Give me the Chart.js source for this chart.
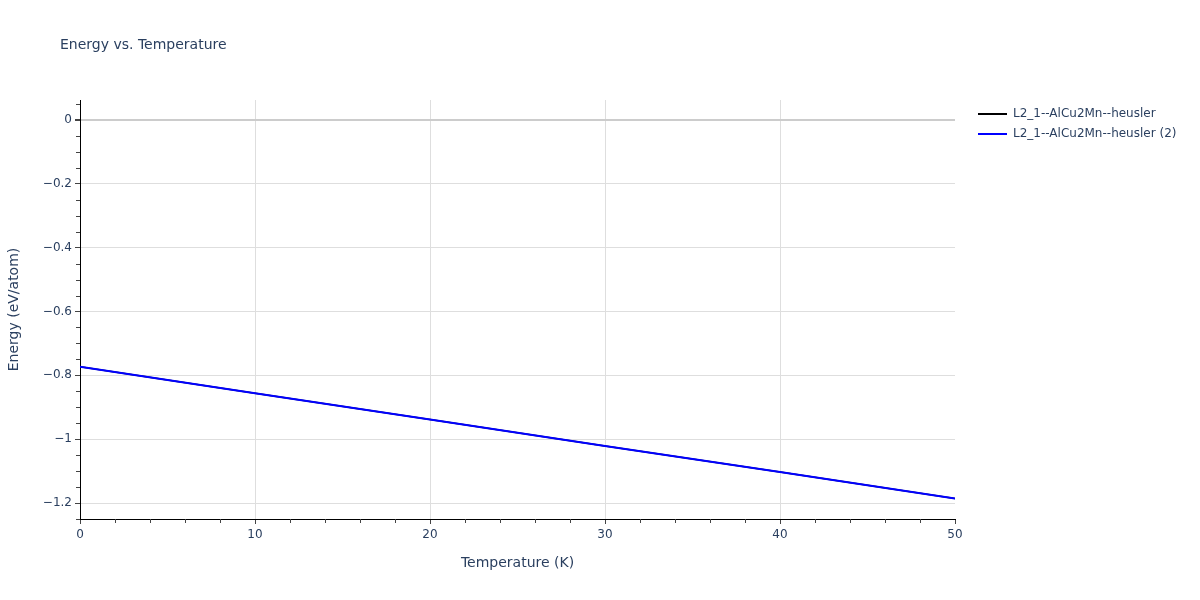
<!DOCTYPE html>
<html>
<head>
<meta charset="utf-8">
<script src="https://cdn.jsdelivr.net/npm/chart.js@4"></script>
<style>
  html, body { margin: 0; padding: 0; background: #fff; }
  #wrap { width: 1200px; height: 600px; position: relative; }
</style>
</head>
<body>
<div id="wrap"><canvas id="myChart1" width="1200" height="600"></canvas></div>
<script>
const temperatures = [0, 10, 20, 30, 40, 50];
const energyA = [-0.773, -0.856, -0.938, -1.021, -1.103, -1.186];
const energyB = [-0.773, -0.856, -0.938, -1.021, -1.103, -1.186];
const seriesNames = ["L2_1--AlCu2Mn--heusler", "L2_1--AlCu2Mn--heusler (2)"];
const seriesColors = ["#000000", "#0000ff"];

const textColor = "#2a3f5f";
const fontFamily = "'DejaVu Sans', Verdana, sans-serif";
const minus = v => String(v).replace('-', '\u2212');

// minor ticks, title and legend drawn on top of the chart
const extras = {
    id: 'extras',
    afterDraw(chart) {
        const ctx = chart.ctx;
        const xs = chart.scales.x, ys = chart.scales.y;
        const area = chart.chartArea;
        ctx.save();
        ctx.strokeStyle = '#444';
        ctx.lineWidth = 1;
        // minor ticks x (every 2)
        for (let v = 0; v <= 50; v += 2) {
            if (v % 10 === 0) continue;
            const px = Math.round(xs.getPixelForValue(v)) + 0.5;
            ctx.beginPath();
            ctx.moveTo(px, area.bottom);
            ctx.lineTo(px, area.bottom + 4);
            ctx.stroke();
        }
        // minor ticks y (every 0.05)
        for (let i = -25; i <= 1; i++) {
            if (i % 4 === 0) continue;
            const py = Math.round(ys.getPixelForValue(i * 0.05)) + 0.5;
            ctx.beginPath();
            ctx.moveTo(area.left, py);
            ctx.lineTo(area.left - 4, py);
            ctx.stroke();
        }
        // title
        ctx.fillStyle = textColor;
        ctx.font = "14px " + fontFamily;
        ctx.textBaseline = 'middle';
        ctx.textAlign = 'left';
        ctx.fillText("Energy vs. Temperature", 60, 45);
        // legend
        ctx.font = "12px " + fontFamily;
        seriesNames.forEach((name, i) => {
            const y = 114 + i * 20;
            ctx.strokeStyle = seriesColors[i];
            ctx.lineWidth = 2;
            ctx.beginPath();
            ctx.moveTo(978, y);
            ctx.lineTo(1007, y);
            ctx.stroke();
            ctx.fillStyle = textColor;
            ctx.fillText(name, 1013, y);
        });
        ctx.restore();
    }
};

new Chart("myChart1", {
    type: "line",
    data: {
        datasets: [{
            label: seriesNames[0],
            data: temperatures.map((t, i) => ({ x: t, y: energyA[i] })),
            borderColor: seriesColors[0],
            backgroundColor: seriesColors[0],
            borderWidth: 1.5,
            pointRadius: 0,
            fill: false,
            order: 1
        }, {
            label: seriesNames[1],
            data: temperatures.map((t, i) => ({ x: t, y: energyB[i] })),
            borderColor: seriesColors[1],
            backgroundColor: seriesColors[1],
            borderWidth: 2,
            pointRadius: 0,
            fill: false,
            order: 0
        }]
    },
    plugins: [extras],
    options: {
        responsive: false,
        animation: false,
        layout: { padding: { left: 0, right: 245, top: 100, bottom: 0 } },
        plugins: {
            legend: { display: false },
            tooltip: { enabled: false }
        },
        scales: {
            x: {
                type: 'linear',
                min: 0,
                max: 50,
                afterFit: s => { s.height = 81; },
                border: { color: '#000', width: 1 },
                grid: {
                    color: c => (c.tick.value === 0 || c.tick.value === 50) ? 'rgba(0,0,0,0)' : '#dedede',
                    tickColor: '#444',
                    tickLength: 5,
                    drawTicks: true
                },
                ticks: {
                    stepSize: 10,
                    color: textColor,
                    font: { family: fontFamily, size: 12 },
                    padding: 4,
                    maxRotation: 0
                },
                title: {
                    display: true,
                    text: 'Temperature (K)',
                    color: textColor,
                    font: { family: fontFamily, size: 14 },
                    padding: { top: 0, bottom: 28 }
                }
            },
            y: {
                type: 'linear',
                min: -1.25,
                max: 0.0625,
                afterFit: s => { s.width = 80; },
                border: { color: '#000', width: 1 },
                grid: {
                    color: c => c.tick.value === 0 ? '#cccccc' : '#dedede',
                    lineWidth: c => c.tick.value === 0 ? 2 : 1,
                    tickColor: '#444',
                    tickLength: 5,
                    drawTicks: true
                },
                ticks: {
                    stepSize: 0.2,
                    includeBounds: false,
                    color: textColor,
                    font: { family: fontFamily, size: 12 },
                    padding: 3,
                    callback: v => minus(Math.round(v * 10) / 10)
                },
                title: {
                    display: true,
                    text: 'Energy (eV/atom)',
                    color: textColor,
                    font: { family: fontFamily, size: 14 },
                    padding: { top: 6, bottom: 0 }
                }
            }
        }
    }
});
</script>
</body>
</html>
